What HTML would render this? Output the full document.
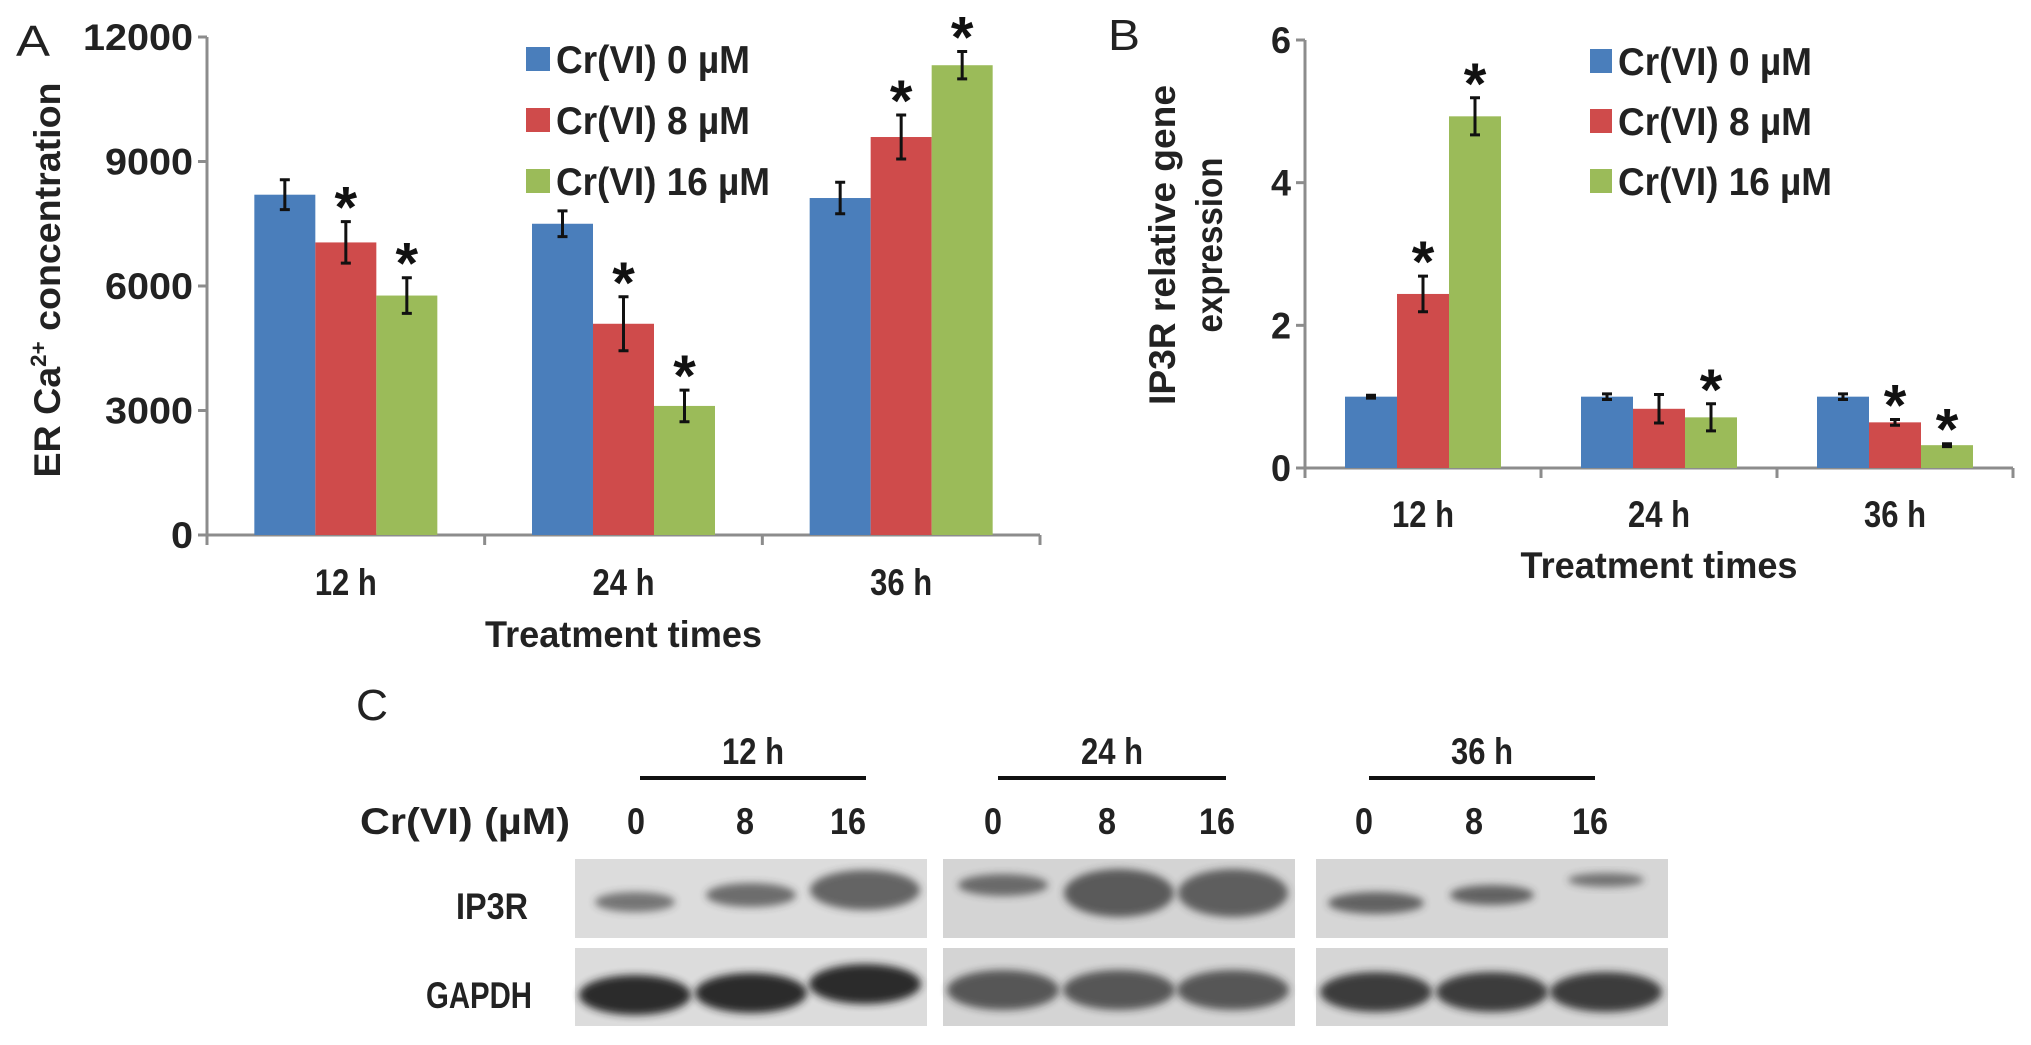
<!DOCTYPE html>
<html><head><meta charset="utf-8"><style>
html,body{margin:0;padding:0;background:#fff;}
svg{display:block;font-family:"Liberation Sans",Arial,sans-serif;}
</style></head><body>
<svg id="fig" width="2031" height="1045" viewBox="0 0 2031 1045">
<defs>
<filter id="blur" x="-20%" y="-50%" width="140%" height="200%"><feGaussianBlur stdDeviation="4"/></filter>
</defs>
<g id="panelA"></g>
<g id="panelB"></g>
<g id="panelC"></g>
</svg>
<script>
// ---- data ----
const categories = ["12 h", "24 h", "36 h"];
const seriesNames = ["Cr(VI) 0 µM", "Cr(VI) 8 µM", "Cr(VI) 16 µM"];
const aValues0 = [8200, 7500, 8120];
const aValues8 = [7050, 5090, 9590];
const aValues16 = [5770, 3110, 11320];
const aErr0 = [360, 310, 380];
const aErr8 = [500, 650, 530];
const aErr16 = [430, 380, 330];
const aSig0 = [false, false, false];
const aSig8 = [true, true, true];
const aSig16 = [true, true, true];
const aTicks = [0, 3000, 6000, 9000, 12000];
const bValues0 = [1.0, 1.0, 1.0];
const bValues8 = [2.44, 0.83, 0.64];
const bValues16 = [4.93, 0.71, 0.32];
const bErr0 = [0.02, 0.04, 0.04];
const bErr8 = [0.25, 0.2, 0.04];
const bErr16 = [0.26, 0.19, 0.02];
const bSig0 = [false, false, false];
const bSig8 = [true, false, true];
const bSig16 = [true, true, true];
const bTicks = [0, 2, 4, 6];

const colors = ["#4a7ebb", "#cf4b4b", "#9bbb59"];
const NS = "http://www.w3.org/2000/svg";
const FS = 37;
function mk(parent, tag, attrs, text) {
  const e = document.createElementNS(NS, tag);
  for (const k in attrs) e.setAttribute(k, attrs[k]);
  if (text !== undefined) e.textContent = text;
  parent.appendChild(e);
  return e;
}

function drawChart(g, cfg) {
  const yS = v => cfg.y0 - (v - cfg.min) / (cfg.max - cfg.min) * (cfg.y0 - cfg.y1);
  const gw = (cfg.xEnd - cfg.x0) / categories.length;
  const xC = i => cfg.x0 + gw * (i + 0.5);
  const ya = mk(g, "line", {x1: cfg.x0, y1: cfg.y1, x2: cfg.x0, y2: cfg.y0 + 10, stroke: "#8c8c8c", "stroke-width": 3});
  
  
  cfg.ticks.forEach(t => {
    const tk = mk(g, "line", {x1: cfg.x0 - 9, y1: yS(t), x2: cfg.x0, y2: yS(t), stroke: "#8c8c8c", "stroke-width": 3});
    
    
    const s = String(t);
    const tl = mk(g, "text", {x: cfg.x0 - 14, y: yS(t) + 13, "text-anchor": "end", "font-size": FS, "font-weight": "bold", fill: "#222", textLength: s.length * cfg.digitW, lengthAdjust: "spacingAndGlyphs"}, s);
    
    
  });
  const xa = mk(g, "line", {x1: cfg.x0, y1: cfg.y0, x2: cfg.xEnd, y2: cfg.y0, stroke: "#8c8c8c", "stroke-width": 3});
  
  
  for (let i = 0; i <= categories.length; i++) {
    const d = mk(g, "line", {x1: cfg.x0 + gw * i, y1: cfg.y0, x2: cfg.x0 + gw * i, y2: cfg.y0 + 10, stroke: "#8c8c8c", "stroke-width": 3});
    
    
  }
  const vals = cfg.values, errs = cfg.errs, sigs = cfg.sigs;
  categories.forEach((c, i) => {
    for (let s = 0; s < 3; s++) {
      const x = xC(i) + (s - 1.5) * cfg.bw;
      const v = vals[s][i];
      const r = mk(g, "rect", {x: x, y: yS(v), width: cfg.bw, height: cfg.y0 - yS(v), fill: colors[s]});
      
      
      const cx = x + cfg.bw / 2, e = errs[s][i];
      const eb = mk(g, "path", {d: `M${cx},${yS(v + e)}V${yS(v - e)}M${cx - 5},${yS(v + e)}H${cx + 5}M${cx - 5},${yS(v - e)}H${cx + 5}`, stroke: "#111", "stroke-width": 3, fill: "none"});
      
      
      if (sigs[s][i]) {
        const st = mk(g, "text", {x: cx, y: yS(v + e) + 6, "text-anchor": "middle", "font-size": 58, "font-weight": "bold", fill: "#111"}, "*");
        
        
      }
    }
    const cl = mk(g, "text", {x: xC(i), y: cfg.catY, "text-anchor": "middle", "font-size": FS, "font-weight": "bold", fill: "#222", textLength: cfg.catW, lengthAdjust: "spacingAndGlyphs"}, c);
    
    
  });
  const xt = mk(g, "text", {x: xC(1), y: cfg.titleY, "text-anchor": "middle", "font-size": FS, "font-weight": "bold", fill: "#222", textLength: 277, lengthAdjust: "spacingAndGlyphs"}, "Treatment times");
  
  
  seriesNames.forEach((n, s) => {
    const ly = cfg.legY + s * cfg.legGap;
    const sw = mk(g, "rect", {x: cfg.legX, y: ly - 12, width: cfg.swW, height: 24, fill: colors[s]});
    
    
    const lt = mk(g, "text", {x: cfg.legX + cfg.swW + 6, y: ly + 14, "font-size": 39, "font-weight": "bold", fill: "#222", textLength: n.length > 11 ? 214 : 194, lengthAdjust: "spacingAndGlyphs"}, n);
    
    
  });
}

const A = document.getElementById("panelA");
const pa = mk(A, "text", {x: 16, y: 56, "font-size": 44, fill: "#222", textLength: 34, lengthAdjust: "spacingAndGlyphs"}, "A");


const yta = mk(A, "text", {transform: "translate(60,280) rotate(-90)", "text-anchor": "middle", "font-size": FS, "font-weight": "bold", fill: "#222", textLength: 395, lengthAdjust: "spacingAndGlyphs"});


mk(yta, "tspan", {}, "ER Ca");
mk(yta, "tspan", {"font-size": 22, dy: -14}, "2+");
mk(yta, "tspan", {dy: 14}, " concentration");
drawChart(A, {x0: 207, xEnd: 1040, y0: 535, y1: 37, min: 0, max: 12000, ticks: aTicks, digitW: 22, bw: 61,
  values: [aValues0, aValues8, aValues16], errs: [aErr0, aErr8, aErr16], sigs: [aSig0, aSig8, aSig16],
  catY: 595, catW: 62, titleY: 647, legX: 526, legY: 59, legGap: 61, swW: 24});

const B = document.getElementById("panelB");
const pb = mk(B, "text", {x: 1108, y: 50, "font-size": 44, fill: "#222", textLength: 32, lengthAdjust: "spacingAndGlyphs"}, "B");


const ytb1 = mk(B, "text", {transform: "translate(1175,245) rotate(-90)", "text-anchor": "middle", "font-size": FS, "font-weight": "bold", fill: "#222", textLength: 320, lengthAdjust: "spacingAndGlyphs"}, "IP3R relative  gene");


const ytb2 = mk(B, "text", {transform: "translate(1222,245) rotate(-90)", "text-anchor": "middle", "font-size": FS, "font-weight": "bold", fill: "#222", textLength: 175, lengthAdjust: "spacingAndGlyphs"}, "expression");


drawChart(B, {x0: 1305, xEnd: 2013, y0: 468, y1: 40, min: 0, max: 6, ticks: bTicks, digitW: 20, bw: 52,
  values: [bValues0, bValues8, bValues16], errs: [bErr0, bErr8, bErr16], sigs: [bSig0, bSig8, bSig16],
  catY: 527, catW: 62, titleY: 578, legX: 1590, legY: 61, legGap: 60, swW: 22});

// ---- Panel C western blot ----
const C = document.getElementById("panelC");
const pc = mk(C, "text", {x: 356, y: 720, "font-size": 44, fill: "#222", textLength: 32, lengthAdjust: "spacingAndGlyphs"}, "C");


const groups = [
  {label: "12 h", lx1: 640, lx2: 866, bx: 575, lanes: [636, 745, 848], ip3: [[40, 10, 0.6], [45, 12, 0.65], [55, 20, 0.7]], ipY: [902, 895, 890], gY: [995, 993, 984], gd: [0.95, 0.95, 0.95], bg: "#dcdcdc"},
  {label: "24 h", lx1: 998, lx2: 1226, bx: 943, lanes: [993, 1107, 1217], ip3: [[45, 11, 0.65], [55, 24, 0.75], [55, 24, 0.72]], ipY: [885, 893, 893], gY: [990, 990, 990], gd: [0.7, 0.7, 0.7], bg: "#d4d4d4"},
  {label: "36 h", lx1: 1369, lx2: 1595, bx: 1316, lanes: [1364, 1474, 1590], ip3: [[48, 11, 0.7], [42, 10, 0.7], [38, 7, 0.6]], ipY: [903, 895, 880], gY: [992, 992, 992], gd: [0.85, 0.85, 0.85], bg: "#d6d6d6"}
];
const doses = ["0", "8", "16"];
const crl = mk(C, "text", {x: 360, y: 834, "font-size": FS, "font-weight": "bold", fill: "#222", textLength: 210, lengthAdjust: "spacingAndGlyphs"}, "Cr(VI) (µM)");


groups.forEach(gr => {
  const t = mk(C, "text", {x: (gr.lx1 + gr.lx2) / 2, y: 764, "text-anchor": "middle", "font-size": FS, "font-weight": "bold", fill: "#222", textLength: 62, lengthAdjust: "spacingAndGlyphs"}, gr.label);
  
  
  const l = mk(C, "line", {x1: gr.lx1, y1: 778, x2: gr.lx2, y2: 778, stroke: "#111", "stroke-width": 4});
  
  
  gr.lanes.forEach((lx, k) => {
    const d = mk(C, "text", {x: lx, y: 834, "text-anchor": "middle", "font-size": FS, "font-weight": "bold", fill: "#222", textLength: doses[k].length * 18, lengthAdjust: "spacingAndGlyphs"}, doses[k]);
    
    
  });
  const r1 = mk(C, "rect", {x: gr.bx, y: 859, width: 352, height: 79, fill: gr.bg});
  
  
  const r2 = mk(C, "rect", {x: gr.bx, y: 948, width: 352, height: 78, fill: gr.bg});
  
  
  const bandX = [gr.bx + 60, gr.bx + 176, gr.bx + 290];
  bandX.forEach((bx, k) => {
    const ip = gr.ip3[k];
    const e1 = mk(C, "ellipse", {cx: bx, cy: gr.ipY[k], rx: ip[0], ry: ip[1], fill: "#333", opacity: ip[2], filter: "url(#blur)"});
    
    
    const e2 = mk(C, "ellipse", {cx: bx, cy: gr.gY[k], rx: 56, ry: 20, fill: "#222", opacity: gr.gd[k], filter: "url(#blur)"});
    
    
  });
});
const ipl = mk(C, "text", {x: 492, y: 919, "text-anchor": "middle", "font-size": FS, "font-weight": "bold", fill: "#222", textLength: 72, lengthAdjust: "spacingAndGlyphs"}, "IP3R");


const gl = mk(C, "text", {x: 479, y: 1008, "text-anchor": "middle", "font-size": FS, "font-weight": "bold", fill: "#222", textLength: 106, lengthAdjust: "spacingAndGlyphs"}, "GAPDH");


</script>
</body></html>
